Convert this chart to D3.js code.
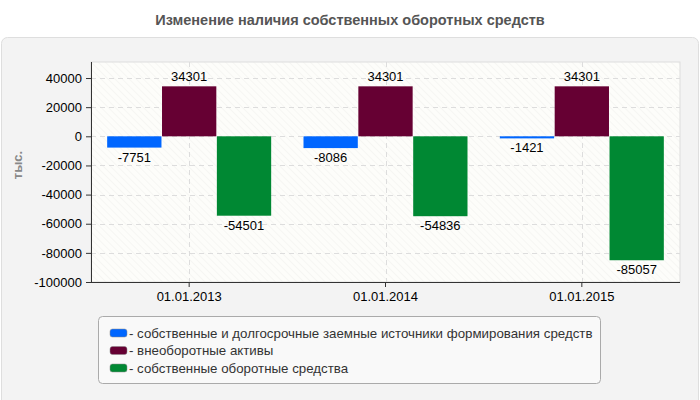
<!DOCTYPE html>
<html>
<head>
<meta charset="utf-8">
<script src="https://cdn.jsdelivr.net/npm/d3@7"></script>
<style>
  body { margin: 0; background: #fff; }
  svg { font-family: "Liberation Sans", Arial, sans-serif; }
</style>
</head>
<body>
<svg id="chart" width="700" height="400"></svg>
<script>
var categories = ["01.01.2013", "01.01.2014", "01.01.2015"];
var seriesNames = [
  "собственные и долгосрочные заемные источники формирования средств",
  "внеоборотные активы",
  "собственные оборотные средства"
];
var seriesColors = ["#0066ff", "#660033", "#008833"];
var ownLongTerm = [-7751, -8086, -1421];
var fixedAssets = [34301, 34301, 34301];
var workingCapital = [-54501, -54836, -85057];
var yTicks = [40000, 20000, 0, -20000, -40000, -60000, -80000, -100000];

var series = [ownLongTerm, fixedAssets, workingCapital];

var svg = d3.select("#chart");

// Title
svg.append("text")
  .attr("x", 350).attr("y", 25)
  .attr("text-anchor", "middle")
  .style("font-size", "14.5px")
  .style("font-weight", "bold")
  .style("fill", "#555")
  .text("Изменение наличия собственных оборотных средств");

// Outer panel
svg.append("rect")
  .attr("x", 1.5).attr("y", 37.5)
  .attr("width", 697).attr("height", 370)
  .attr("rx", 6)
  .style("fill", "#f3f3f3")
  .style("stroke", "#dedede");

var margin = {left: 91, top: 62, right: 680, bottom: 282};

var x = d3.scaleBand()
  .domain(categories)
  .range([margin.left, margin.right]);

var y = d3.scaleLinear()
  .domain([-100000, 51000])
  .range([margin.bottom, margin.top]);

// Hatch pattern for plot background
var defs = svg.append("defs");
var pat = defs.append("pattern")
  .attr("id", "hatch")
  .attr("width", 5).attr("height", 5)
  .attr("patternUnits", "userSpaceOnUse")
  .attr("patternTransform", "rotate(-45)");
pat.append("rect").attr("width", 5).attr("height", 5).style("fill", "#fdfdfa");
pat.append("line")
  .attr("x1", 0).attr("y1", 0).attr("x2", 0).attr("y2", 5)
  .style("stroke", "#efefec").style("stroke-width", 1);

svg.append("rect")
  .attr("x", margin.left).attr("y", margin.top)
  .attr("width", margin.right - margin.left)
  .attr("height", margin.bottom - margin.top)
  .style("fill", "url(#hatch)")
  .style("stroke", "#ddd");

// Grid lines
svg.append("g").selectAll("line.h")
  .data(yTicks.filter(function(d) { return d > -100000; }))
  .join("line")
  .attr("x1", margin.left).attr("x2", margin.right)
  .attr("y1", function(d) { return Math.round(y(d)) + 0.5; })
  .attr("y2", function(d) { return Math.round(y(d)) + 0.5; })
  .style("stroke", "#ddd")
  .style("stroke-dasharray", "5,4");

svg.append("g").selectAll("line.v")
  .data(categories)
  .join("line")
  .attr("x1", function(d) { return Math.round(x(d) + x.bandwidth() / 2) + 0.5; })
  .attr("x2", function(d) { return Math.round(x(d) + x.bandwidth() / 2) + 0.5; })
  .attr("y1", margin.top).attr("y2", margin.bottom)
  .style("stroke", "#ddd")
  .style("stroke-dasharray", "5,4");

// Bars
var inner = d3.scaleBand()
  .domain(d3.range(series.length))
  .range([0, 164])
  .paddingInner(0.01);

var barG = svg.append("g");
categories.forEach(function(cat, ci) {
  var x0 = x(cat) + x.bandwidth() / 2 - 82;
  series.forEach(function(vals, si) {
    var v = vals[ci];
    var bx = x0 + inner(si);
    var y0 = y(0), y1 = y(v);
    barG.append("rect")
      .attr("x", bx)
      .attr("y", Math.min(y0, y1))
      .attr("width", inner.bandwidth())
      .attr("height", Math.max(1.5, Math.abs(y1 - y0)))
      .style("fill", seriesColors[si]);
    barG.append("text")
      .attr("x", bx + inner.bandwidth() / 2)
      .attr("y", v >= 0 ? y1 - 5 : Math.max(y1, y0 + 1.5) + 14)
      .attr("text-anchor", "middle")
      .style("font-size", "13px")
      .style("fill", "#000")
      .text(v);
  });
});

// Axes
var yAxis = d3.axisLeft(y)
  .tickValues(yTicks)
  .tickFormat(function(d) { return String(d); })
  .tickSize(5)
  .tickPadding(4);
var yG = svg.append("g")
  .attr("transform", "translate(" + margin.left + ",0)")
  .call(yAxis);
yG.select(".domain").attr("d", "M0.5," + margin.top + "V" + margin.bottom).style("stroke", "#333");
yG.selectAll(".tick line").style("stroke", "#333");
yG.selectAll(".tick text").style("font-size", "13px").style("fill", "#000")
  .style("font-family", "Liberation Sans, Arial, sans-serif");

var xAxis = d3.axisBottom(x).tickSize(5).tickPadding(5);
var xG = svg.append("g")
  .attr("transform", "translate(0," + margin.bottom + ")")
  .call(xAxis);
xG.select(".domain").attr("d", "M" + margin.left + ",0.5H" + margin.right).style("stroke", "#333");
xG.selectAll(".tick line").style("stroke", "#333");
xG.selectAll(".tick text").style("font-size", "13px").style("fill", "#000")
  .style("font-family", "Liberation Sans, Arial, sans-serif");

// Y axis title
svg.append("text")
  .attr("transform", "translate(22,165) rotate(-90)")
  .attr("text-anchor", "middle")
  .style("font-size", "13px")
  .style("font-weight", "bold")
  .style("fill", "#888")
  .text("тыс.");

// Legend
var lg = svg.append("g");
lg.append("rect")
  .attr("x", 98.5).attr("y", 316.5)
  .attr("width", 502).attr("height", 67)
  .attr("rx", 4)
  .style("fill", "#f9f9f9")
  .style("stroke", "#aaa");
seriesNames.forEach(function(name, i) {
  var ly = 333 + i * 17.5;
  lg.append("rect")
    .attr("x", 110).attr("y", ly - 4)
    .attr("width", 17).attr("height", 8)
    .attr("rx", 2.5)
    .style("fill", seriesColors[i])
    .style("stroke", "#888").style("stroke-width", 0.5);
  lg.append("text")
    .attr("x", 129).attr("y", ly + 4.5)
    .style("font-size", "13.3px")
    .style("fill", "#333")
    .text("- " + name);
});
</script>
</body>
</html>
